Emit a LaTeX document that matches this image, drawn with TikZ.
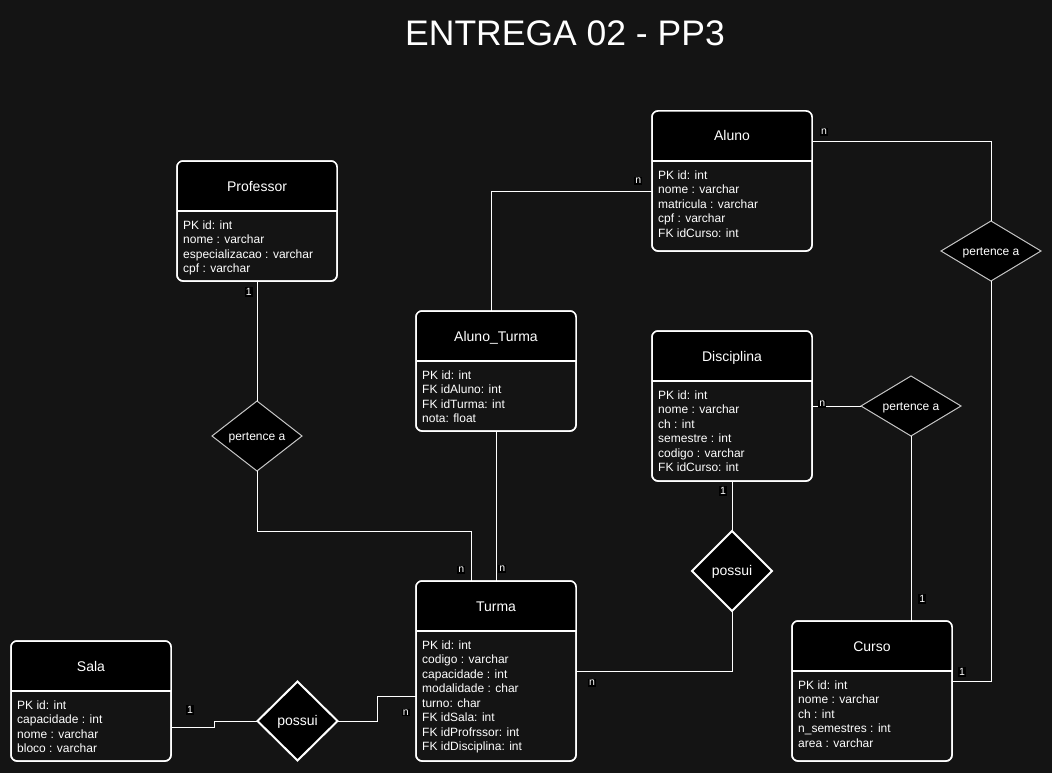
\documentclass[tikz,border=0pt]{standalone}
\usepackage{fontspec}
\setmainfont{Liberation Sans}
\usetikzlibrary{shapes.geometric,calc}
\definecolor{bgc}{RGB}{20,20,20}
\definecolor{dgray}{RGB}{200,200,200}
\tikzset{
  ebox/.style={draw=white, line width=1.5pt, fill=bgc, rounded corners=6pt, inner sep=0pt, outer sep=0pt},
  etitle/.style={text=white, font=\fontsize{14}{16}\selectfont, inner sep=0pt, text height=10pt, text depth=0pt},
  erows/.style={text=white, font=\fontsize{12}{14.45}\selectfont, align=left, inner sep=0pt},
  rel/.style={shape=diamond, fill=black, draw=dgray, line width=1pt, inner sep=0pt, outer sep=0pt, text=white, font=\fontsize{12}{14}\selectfont, text height=8.5pt, text depth=0.5pt},
  relb/.style={rel, draw=white, line width=2pt, font=\fontsize{14}{16}\selectfont, text height=10pt, text depth=1pt},
  conn/.style={draw=white, line width=1pt},
  lbl/.style={fill=black, text=white, font=\fontsize{10.5}{11}\selectfont, inner sep=1pt}
}
\newcommand{\erentity}[7]{%
  \node[ebox, minimum width=#4, minimum height=#5, anchor=north west] (#1) at (#2,#3) {};
  \fill[black, rounded corners=6pt] (#1.north west) rectangle ([yshift=-50pt]#1.north east);
  \fill[black] ([yshift=-25pt]#1.north west) rectangle ([yshift=-50pt]#1.north east);
  \draw[white, line width=1.5pt, rounded corners=6pt] (#1.north west) rectangle (#1.south east);
  \draw[white, line width=1.5pt] ([yshift=-50pt]#1.north west) -- ([yshift=-50pt]#1.north east);
  \node[etitle] (#1-t) at ([yshift=-25pt]#1.north) {#6};
  \node[erows, anchor=north west] (#1-r) at ([xshift=6pt, yshift=-59.5pt]#1.north west) {#7};
}
\begin{document}
\begin{tikzpicture}[x=1pt,y=-1pt]
\fill[bgc] (0,0) rectangle (1052,773);
\useasboundingbox (0,0) rectangle (1052,773);

\node[text=white, font=\fontsize{35.5}{40}\selectfont, inner sep=0pt] (title) at (565,33) {ENTREGA 02 - PP3};

\erentity{prof}{177}{161}{160}{120}{Professor}{PK id: int\\nome : varchar\\especializacao : varchar\\cpf : varchar}
\erentity{aluno}{652}{111}{160}{140}{Aluno}{PK id: int\\nome : varchar\\matricula : varchar\\cpf : varchar\\FK idCurso: int}
\erentity{at}{416}{311}{160}{120}{Aluno\_Turma}{PK id: int\\FK idAluno: int\\FK idTurma: int\\nota: float}
\erentity{disc}{652}{331}{160}{150}{Disciplina}{PK id: int\\nome : varchar\\ch : int\\semestre : int\\codigo : varchar\\FK idCurso: int}
\erentity{turma}{416}{581}{160}{180}{Turma}{PK id: int\\codigo : varchar\\capacidade : int\\modalidade : char\\turno: char\\FK idSala: int\\FK idProfrssor: int\\FK idDisciplina: int}
\erentity{sala}{11}{641}{160}{120}{Sala}{PK id: int\\capacidade : int\\nome : varchar\\bloco : varchar}
\erentity{curso}{792}{621}{160}{140}{Curso}{PK id: int\\nome : varchar\\ch : int\\n\_semestres : int\\area : varchar}

\node[rel, minimum width=90pt, minimum height=70pt, aspect=1.2857] (d1) at (257,436) {pertence a};
\node[rel, minimum width=100pt, minimum height=60pt, aspect=1.6667] (d2) at (991,251) {pertence a};
\node[rel, minimum width=100pt, minimum height=60pt, aspect=1.6667] (d3) at (911,406) {pertence a};
\node[relb, minimum width=80pt, minimum height=80pt, aspect=1] (d4) at (732,571) {possui};
\node[relb, minimum width=80pt, minimum height=79pt, aspect=1] (d5) at (297.5,721) {possui};

\draw[conn] (prof.south) -- (d1.north);
\draw[conn] (d1.south) -- ++(0,60) -| ([xshift=-25pt]turma.north);
\draw[conn] (at.south) -- (turma.north);
\draw[conn] ([xshift=-5pt]at.north) |- ([yshift=-10pt]aluno.west);
\draw[conn] ([yshift=39pt]aluno.east) -| (d2.north);
\draw[conn] (d2.south) |- ([yshift=10pt]curso.east);
\draw[conn] (disc.east) -- (d3.west);
\draw[conn] (d3.south) -- (d3.south |- curso.north);
\draw[conn] (disc.south) -- (d4.north);
\draw[conn] (d4.south) |- (turma.east);
\draw[conn] ([yshift=-26pt]sala.east) -- ++(43,0) |- (d5.west);
\draw[conn] (d5.east) -- ++(40,0) |- ([yshift=-25pt]turma.west);

\node[lbl] (l1) at (248.7,292) {1};
\node[lbl] (l2) at (461.3,570) {n};
\node[lbl] (l3) at (502.3,569) {n};
\node[lbl] (l4) at (638.3,181) {n};
\node[lbl] (l5) at (824,132) {n};
\node[lbl] (l6) at (962,672) {1};
\node[lbl] (l7) at (922.3,599) {1};
\node[lbl] (l8) at (822.3,404) {n};
\node[lbl] (l9) at (723,491) {1};
\node[lbl] (l10) at (592,683) {n};
\node[lbl] (l11) at (405.7,712.5) {n};
\node[lbl] (l12) at (190,710) {1};
\end{tikzpicture}
\end{document}
